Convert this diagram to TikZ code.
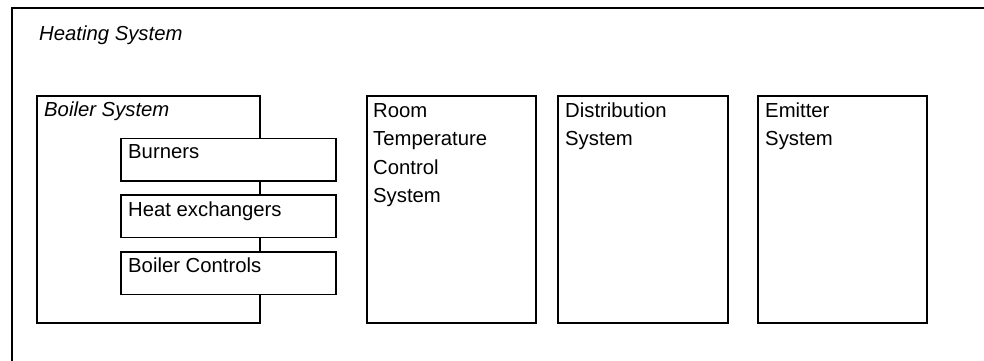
\documentclass[tikz,border=0pt]{standalone}
\usepackage{fontspec}
\setmainfont{Liberation Sans}
\begin{document}
\begin{tikzpicture}[x=1pt,y=-1pt,
  frame/.style={draw, line width=1.5pt},
  box/.style={draw, line width=1.5pt, fill=white, inner sep=0pt, anchor=north west},
  lbl/.style={anchor=base west, inner sep=0pt, font=\fontsize{20.3}{28.5}\selectfont, align=left},
  ilbl/.style={lbl, font=\fontsize{20.3}{28.5}\selectfont\itshape}]
  \useasboundingbox (0,0) rectangle (984,360);
  % outer frame of the heating system, running off the page
  \begin{scope}
    \clip (0,0) rectangle (984,360);
    \draw[frame] (12,8) rectangle (1000,380);
  \end{scope}
  \node[ilbl] (heating) at (39,40) {Heating System};

  % boiler system with its components
  \node[box, minimum width=223pt, minimum height=227pt] (boiler) at (36,95) {};
  \node[ilbl] (boilerlbl) at (44,116) {Boiler System};
  \node[box, minimum width=215pt, minimum height=42.5pt] (burners) at (120,137.5) {};
  \node[box, minimum width=215pt, minimum height=42.5pt] (hex) at (120,194) {};
  \node[box, minimum width=215pt, minimum height=42.5pt] (ctrl) at (120,251) {};
  \node[lbl] (burnerslbl) at (128,158) {Burners};
  \node[lbl] (hexlbl) at (128,216) {Heat exchangers};
  \node[lbl] (ctrllbl) at (128,272) {Boiler Controls};

  % other subsystems (labels anchored at the baseline of their last line)
  \node[box, minimum width=169pt, minimum height=227pt] (room) at (366,95) {};
  \node[box, minimum width=170pt, minimum height=227pt] (dist) at (557,95) {};
  \node[box, minimum width=169pt, minimum height=227pt] (emit) at (757,95) {};
  \node[lbl] (roomlbl) at (373,202.5) {Room\\Temperature\\Control\\System};
  \node[lbl] (distlbl) at (565,145.5) {Distribution\\System};
  \node[lbl] (emitlbl) at (765,145.5) {Emitter\\System};
\end{tikzpicture}
\end{document}
